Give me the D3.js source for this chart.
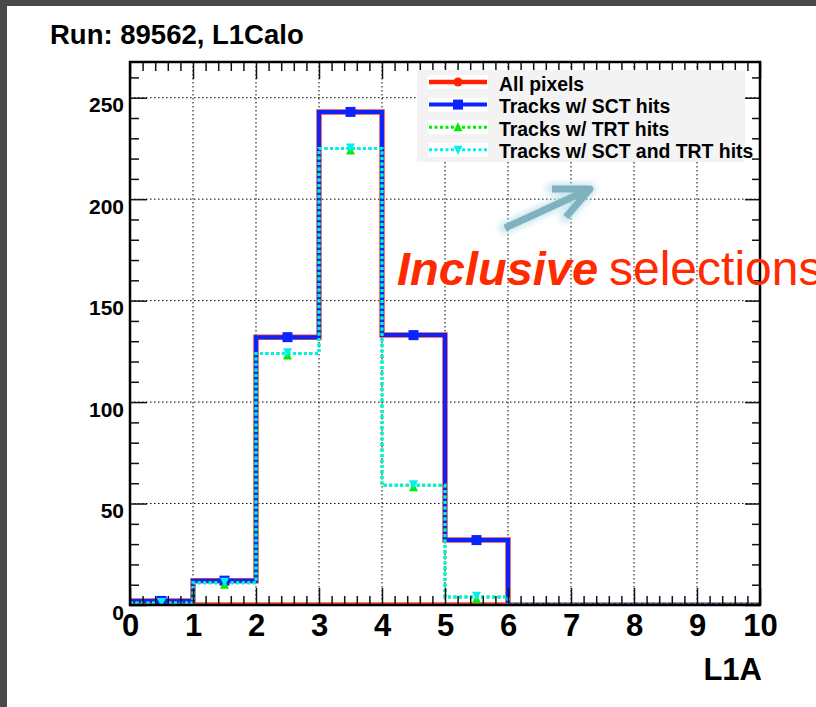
<!DOCTYPE html>
<html>
<head>
<meta charset="utf-8">
<script src="https://cdn.jsdelivr.net/npm/d3@7"></script>
<style>
  html, body { margin: 0; padding: 0; background: #fff; }
  svg { display: block; }
  text { font-family: "Liberation Sans", Arial, Helvetica, sans-serif; }
</style>
</head>
<body>
<svg id="chart" width="816" height="707"></svg>
<script>
// ---- data ----
const binEdges = [0, 1, 2, 3, 4, 5, 6, 7, 8, 9, 10];
const allPixels = [2, 12, 132, 243, 133, 32, 0, 0, 0, 0];
const sctHits = [2, 12, 132, 243, 133, 32, 0, 0, 0, 0];
const trtHits = [1, 11, 124, 225, 59, 4, 0, 0, 0, 0];
const sctTrtHits = [1, 11, 124, 225, 59, 4, 0, 0, 0, 0];
const xTickLabels = ["0", "1", "2", "3", "4", "5", "6", "7", "8", "9", "10"];
const yTickValues = [0, 50, 100, 150, 200, 250];
const seriesNames = ["All pixels", "Tracks w/ SCT hits", "Tracks w/ TRT hits", "Tracks w/ SCT and TRT hits"];
const titleText = "Run: 89562, L1Calo";
const xAxisTitle = "L1A";

// ---- layout ----
const W = 816, H = 707;
const frame = { left: 130, right: 760, top: 62, bottom: 605 };
const svg = d3.select("#chart");

svg.append("rect").attr("x", 0).attr("y", 0).attr("width", W).attr("height", H).attr("fill", "#fff");
svg.append("rect").attr("x", 0).attr("y", 0).attr("width", W).attr("height", 6).attr("fill", "#4a4a4a");
svg.append("rect").attr("x", 0).attr("y", 0).attr("width", 7).attr("height", H).attr("fill", "#4a4a4a");

const x = d3.scaleLinear().domain([0, 10]).range([frame.left, frame.right]);
const y = d3.scaleLinear().domain([0, 267.6]).range([frame.bottom, frame.top]);

const colors = { red: "#ff2200", blue: "#0a24ff", green: "#00ee00", cyan: "#00f0f0" };

svg.append("defs").append("clipPath").attr("id", "plotclip")
  .append("rect").attr("x", frame.left).attr("y", frame.top)
  .attr("width", frame.right - frame.left).attr("height", frame.bottom - frame.top);

// ---- grid ----
const grid = svg.append("g");
grid.selectAll("line.gx").data(d3.range(1, 10)).join("line")
  .attr("x1", d => x(d)).attr("x2", d => x(d))
  .attr("y1", frame.top).attr("y2", frame.bottom)
  .attr("stroke", "#000").attr("stroke-width", 1).attr("stroke-dasharray", "1.5,2.5");
grid.selectAll("line.gy").data(yTickValues.filter(v => v > 0)).join("line")
  .attr("x1", frame.left).attr("x2", frame.right)
  .attr("y1", d => y(d)).attr("y2", d => y(d))
  .attr("stroke", "#000").attr("stroke-width", 1).attr("stroke-dasharray", "1.5,2.5");

// ---- histograms ----
function stepPoints(vals) {
  const pts = [];
  vals.forEach((v, i) => {
    pts.push([binEdges[i], v]);
    pts.push([binEdges[i + 1], v]);
  });
  return pts;
}
const line = d3.line().x(d => x(d[0])).y(d => y(d[1]));
const plot = svg.append("g").attr("clip-path", "url(#plotclip)");

// red: outline closed to the baseline
const redPts = [[binEdges[0], 0]].concat(stepPoints(allPixels), [[binEdges[binEdges.length - 1], 0]]);
plot.append("path").attr("d", line(redPts) + "Z")
  .attr("fill", "none").attr("stroke", "#f04a3a").attr("stroke-width", 5.5);
plot.append("path").attr("d", line(stepPoints(sctHits)))
  .attr("fill", "none").attr("stroke", colors.blue).attr("stroke-width", 4);
plot.append("path").attr("d", line(stepPoints(trtHits)))
  .attr("fill", "none").attr("stroke", colors.green).attr("stroke-width", 3).attr("stroke-dasharray", "3,2.5");
plot.append("path").attr("d", line(stepPoints(sctTrtHits)))
  .attr("fill", "none").attr("stroke", colors.cyan).attr("stroke-width", 3).attr("stroke-dasharray", "3,2.5");

const centers = allPixels.map((v, i) => (binEdges[i] + binEdges[i + 1]) / 2);
const triDown = (s) => { const h = s; return `M${-h/2},${-h*0.45}L${h/2},${-h*0.45}L0,${h*0.55}Z`; };
const triUp = (s) => { const h = s; return `M${-h/2},${h*0.45}L${h/2},${h*0.45}L0,${-h*0.55}Z`; };
const nz = (arr) => arr.map((v, i) => ({ v, i })).filter(d => d.v > 0);

plot.selectAll("circle.red").data(nz(allPixels)).join("circle")
  .attr("cx", d => x(centers[d.i])).attr("cy", d => y(d.v)).attr("r", 4.5).attr("fill", colors.red);
plot.selectAll("rect.blue").data(nz(sctHits)).join("rect")
  .attr("x", d => x(centers[d.i]) - 5).attr("y", d => y(d.v) - 5)
  .attr("width", 10).attr("height", 10).attr("fill", colors.blue);
plot.selectAll("path.green").data(nz(trtHits)).join("path")
  .attr("d", triUp(9)).attr("transform", d => `translate(${x(centers[d.i])},${y(d.v) + 2})`)
  .attr("fill", colors.green);
plot.selectAll("path.cyan").data(nz(sctTrtHits)).join("path")
  .attr("d", triDown(9)).attr("transform", d => `translate(${x(centers[d.i])},${y(d.v) - 1})`)
  .attr("fill", colors.cyan);

// ---- axes ----
function styleAxis(g) {
  g.select(".domain").remove();
  g.selectAll(".tick line").attr("stroke", "#111").attr("stroke-width", 1.5);
}
const xMinor = d3.range(0, 10.001, 0.2).filter(v => Math.abs(v - Math.round(v)) > 1e-6);
const yMinor = d3.range(0, 261, 10).filter(v => v % 50 !== 0);

// bottom
svg.append("g").attr("transform", `translate(0,${frame.bottom})`)
  .call(d3.axisBottom(x).tickValues(xMinor).tickSize(-9).tickFormat(""))
  .call(styleAxis);
svg.append("g").attr("transform", `translate(0,${frame.bottom})`)
  .call(d3.axisBottom(x).tickValues(d3.range(0, 11)).tickSize(-17).tickPadding(9)
    .tickFormat((d, i) => xTickLabels[i]))
  .call(styleAxis)
  .call(g => g.selectAll(".tick text").attr("font-size", 31).attr("font-weight", "bold")
    .attr("fill", "#000").attr("font-family", "Liberation Sans, Arial, sans-serif"));
// top
svg.append("g").attr("transform", `translate(0,${frame.top})`)
  .call(d3.axisTop(x).tickValues(xMinor).tickSize(-9).tickFormat(""))
  .call(styleAxis);
svg.append("g").attr("transform", `translate(0,${frame.top})`)
  .call(d3.axisTop(x).tickValues(d3.range(0, 11)).tickSize(-17).tickFormat(""))
  .call(styleAxis);
// left
svg.append("g").attr("transform", `translate(${frame.left},0)`)
  .call(d3.axisLeft(y).tickValues(yMinor).tickSize(-9).tickFormat(""))
  .call(styleAxis);
svg.append("g").attr("transform", `translate(${frame.left},0)`)
  .call(d3.axisLeft(y).tickValues(yTickValues).tickSize(-17).tickPadding(6).tickFormat(d3.format("d")))
  .call(styleAxis)
  .call(g => g.selectAll(".tick text").attr("font-size", 21).attr("font-weight", "bold")
    .attr("fill", "#000").attr("dy", "0.68em").attr("font-family", "Liberation Sans, Arial, sans-serif"));
// right
svg.append("g").attr("transform", `translate(${frame.right},0)`)
  .call(d3.axisRight(y).tickValues(yMinor).tickSize(-8).tickFormat(""))
  .call(styleAxis);
svg.append("g").attr("transform", `translate(${frame.right},0)`)
  .call(d3.axisRight(y).tickValues(yTickValues).tickSize(-15).tickFormat(""))
  .call(styleAxis);

// ---- legend ----
const leg = svg.append("g");
leg.append("rect").attr("x", 417).attr("y", 70).attr("width", 328).attr("height", 92).attr("fill", "#f3f3f3");
const legStyles = [
  { c: colors.red, w: 4.5, dash: null, marker: "circle" },
  { c: colors.blue, w: 4, dash: null, marker: "square" },
  { c: colors.green, w: 3, dash: "3,2.5", marker: "up" },
  { c: colors.cyan, w: 3, dash: "3,2.5", marker: "down" }
];
seriesNames.forEach((name, i) => {
  const cy = 82 + i * 22.6;
  const st = legStyles[i];
  leg.append("rect").attr("x", 428).attr("y", cy - 7).attr("width", 60).attr("height", 14).attr("fill", "#fff");
  leg.append("line").attr("x1", 429).attr("x2", 487).attr("y1", cy).attr("y2", cy)
    .attr("stroke", st.c).attr("stroke-width", st.w).attr("stroke-dasharray", st.dash);
  if (st.marker === "circle") leg.append("circle").attr("cx", 458).attr("cy", cy).attr("r", 4.5).attr("fill", st.c);
  if (st.marker === "square") leg.append("rect").attr("x", 453).attr("y", cy - 5).attr("width", 10).attr("height", 10).attr("fill", st.c);
  if (st.marker === "up") leg.append("path").attr("d", triUp(9)).attr("transform", `translate(458,${cy})`).attr("fill", st.c);
  if (st.marker === "down") leg.append("path").attr("d", triDown(9)).attr("transform", `translate(458,${cy})`).attr("fill", st.c);
  leg.append("text").attr("x", 499).attr("y", cy + 8.5).attr("font-size", 19.4).attr("font-weight", "bold")
    .attr("fill", "#000").text(name);
});

// ---- frame ----
svg.append("rect").attr("x", frame.left).attr("y", frame.top)
  .attr("width", frame.right - frame.left).attr("height", frame.bottom - frame.top)
  .attr("fill", "none").attr("stroke", "#000").attr("stroke-width", 2.5);

// ---- titles ----
svg.append("text").attr("x", 50).attr("y", 44).attr("font-size", 27.5).attr("font-weight", "bold")
  .attr("fill", "#000").text(titleText);
svg.append("text").attr("x", 762).attr("y", 680).attr("text-anchor", "end").attr("font-size", 31)
  .attr("font-weight", "bold").attr("fill", "#000").text(xAxisTitle);

// ---- annotation ----
const defs = svg.select("defs");
const f = defs.append("filter").attr("id", "glow").attr("x", "-30%").attr("y", "-30%").attr("width", "160%").attr("height", "160%");
f.append("feGaussianBlur").attr("stdDeviation", 3);
const arrowColor = "#7fb1bf";
const arrowPath = "M505,228 L590,189 M552,189 L590,189 L566,217";
svg.append("path").attr("d", arrowPath).attr("fill", "none").attr("stroke", "#bfe0ea")
  .attr("stroke-width", 12).attr("stroke-linecap", "round").attr("stroke-linejoin", "round")
  .attr("filter", "url(#glow)").attr("opacity", 0.8);
svg.append("path").attr("d", arrowPath).attr("fill", "none").attr("stroke", arrowColor)
  .attr("stroke-width", 7).attr("stroke-linecap", "butt").attr("stroke-linejoin", "round");

const ann = svg.append("text").attr("x", 397).attr("y", 285).attr("fill", "#ff2a00");
ann.append("tspan").attr("font-size", 47).attr("font-weight", "bold").attr("font-style", "italic").text("Inclusive");
ann.append("tspan").attr("x", 609).attr("font-size", 48).text("selections");
</script>
</body>
</html>
